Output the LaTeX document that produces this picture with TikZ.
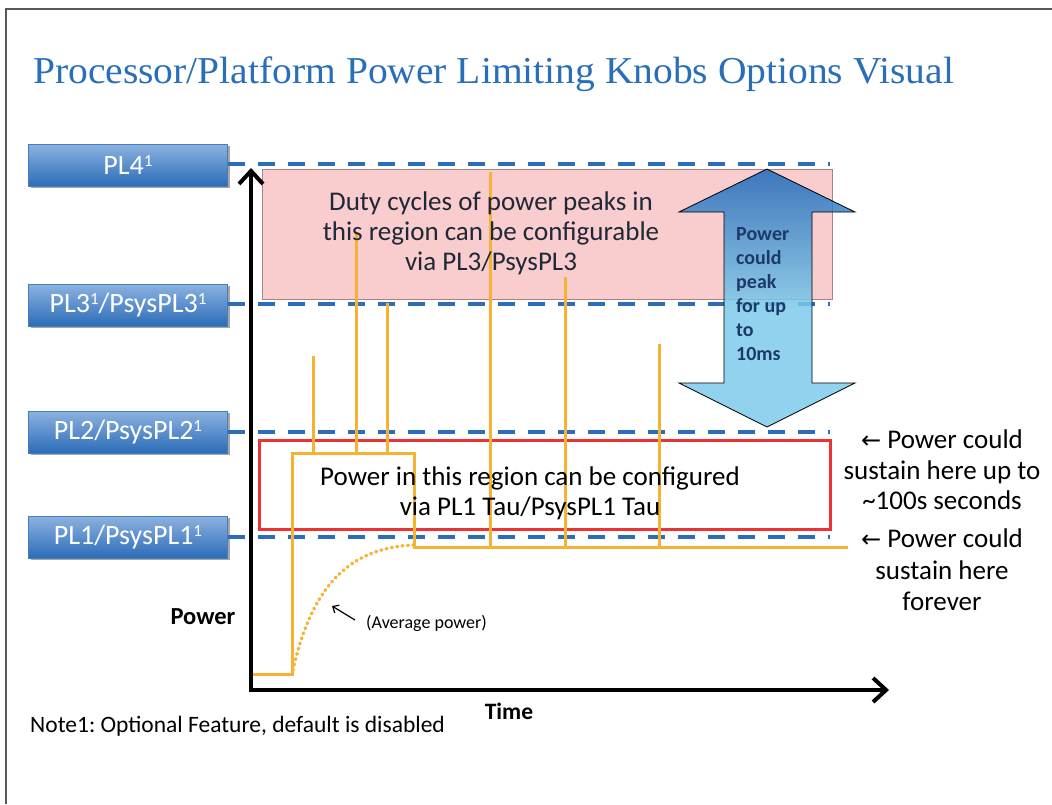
\documentclass[tikz,border=0pt]{standalone}
\usepackage{fontspec}
\setmainfont{Carlito}
\newfontfamily\titlefont{Liberation Serif}
\newfontfamily\symfont{DejaVu Sans}
\usetikzlibrary{arrows.meta,shadows}
\frenchspacing

\definecolor{plblue}{RGB}{42,110,187}
\definecolor{boxtop}{RGB}{140,178,224}
\definecolor{boxbot}{RGB}{44,108,184}
\definecolor{boxedge}{RGB}{70,125,190}
\definecolor{trace}{RGB}{246,178,51}
\definecolor{pinkfill}{RGB}{249,204,206}
\definecolor{pinkedge}{RGB}{170,130,130}
\definecolor{limitred}{RGB}{236,50,50}
\definecolor{darktext}{RGB}{30,40,54}
\definecolor{navytext}{RGB}{28,58,105}
\definecolor{skylight}{RGB}{126,204,236}
\definecolor{skydark}{RGB}{30,104,186}
\definecolor{titleblue}{RGB}{40,110,185}

% blue-to-sky fill of the double arrow (dark at the top)
\pgfdeclareverticalshading{peakshade}{100bp}{%
  color(0bp)=(skylight); color(25bp)=(skylight); color(48bp)=(skylight);
  color(75bp)=(skydark); color(100bp)=(skydark)}

\newcommand{\plsup}{\raisebox{0.3em}{\fontsize{17}{18}\selectfont 1}}
\newcommand{\leftarr}{{\symfont\fontsize{24}{28}\selectfont ←}}

\tikzset{
  limitbox/.style={draw=boxedge, line width=0.8pt, top color=boxtop, bottom color=boxbot,
    minimum width=199pt, minimum height=42pt, inner sep=0pt, text=white,
    font=\fontsize{28}{30}\selectfont,
    drop shadow={shadow xshift=2pt, shadow yshift=-2pt, opacity=0.35, fill=black}},
  limitline/.style={draw=plblue, line width=4.5pt, dash pattern=on 17pt off 13pt},
  axisline/.style={line width=4pt, -{Straight Barb[length=13pt,width=24pt]}},
  powertrace/.style={draw=trace, line width=3pt},
  body/.style={font=\fontsize{27}{30}\selectfont, align=center, inner sep=0pt},
}

\begin{document}
\begin{tikzpicture}[x=1pt,y=-1pt]
\useasboundingbox (0,0) rectangle (1052,804);
\fill[white] (0,0) rectangle (1052,804);

% page frame
\draw[gray!70!black, line width=1.5pt] (6,804) -- (6,9) -- (1052,9);

% title
\node[anchor=west, inner sep=0pt, text=titleblue] (title) at (33,74)
  {\scalebox{1.04}[1]{\titlefont\fontsize{38}{42}\selectfont Processor/Platform Power Limiting Knobs Options Visual}};

% PL3 region
\node[draw=pinkedge, line width=0.8pt, fill=pinkfill, minimum width=570pt, minimum height=130pt,
      inner sep=0pt] (pl3region) at (547,234) {};

% limit labels
\node[limitbox] (pl4) at (128,165) {PL4\plsup};
\node[limitbox] (pl3) at (128,305) {PL3\plsup/PsysPL3\plsup};
\node[limitbox] (pl2) at (128,432) {PL2/PsysPL2\plsup};
\node[limitbox] (pl1) at (128,537) {PL1/PsysPL1\plsup};

\coordinate (pl4end) at (830,164);
\coordinate (pl3end) at (830,304);
\coordinate (pl2end) at (830,432);
\coordinate (pl1end) at (830,537);

\draw[limitline] (pl4.east |- pl4end) -- (pl4end);
\draw[limitline] (pl3.east |- pl3end) -- (pl3end);
\draw[limitline] (pl2.east |- pl2end) -- (pl2end);
\draw[limitline] (pl1.east |- pl1end) -- (pl1end);

% PL1 tau region
\node[draw=limitred, line width=3pt, minimum width=571pt, minimum height=89pt, inner sep=0pt]
  (tauregion) at (544.5,484.5) {};

% power trace
\coordinate (t0) at (252,674);
\coordinate (t1) at (292,674);
\coordinate (t2) at (292,453);
\coordinate (t3) at (414,453);
\coordinate (t4) at (414,547);
\coordinate (t5) at (848,547);
\draw[powertrace, line join=miter] (t0) -- (t1) -- (t2) -- (t3) -- (t4) -- (t5);

% power spikes
\coordinate (s1) at (313,356);
\coordinate (s2) at (356,232);
\coordinate (s3) at (387,303);
\coordinate (s4) at (490,172);
\coordinate (s5) at (565,277);
\coordinate (s6) at (659,344);
\draw[powertrace] (s1) -- (s1 |- t2);
\draw[powertrace] (s2) -- (s2 |- t2);
\draw[powertrace] (s3) -- (s3 |- t2);
\draw[powertrace] (s4) -- (s4 |- t4);
\draw[powertrace] (s5) -- (s5 |- t5);
\draw[powertrace] (s6) -- (s6 |- t5);

% average power
\coordinate (a0) at (293,670);
\coordinate (a1) at (413,545);
\draw[trace, line width=3.5pt, line cap=round, dash pattern=on 0.8pt off 4.6pt]
  (a0) .. controls (312,585) and (350,548) .. (a1);
\node[font=\fontsize{18}{20}\selectfont, anchor=west, inner sep=0pt] (avglabel) at (366,623) {(Average power)};
\coordinate (avgtip) at (332,606);
\draw[line width=1.2pt, -{Straight Barb[length=5pt,width=9pt]}] (355,620) -- (avgtip);

% region descriptions
\node[body, text=darktext] (pl3text) at (491,233)
  {Duty cycles of power peaks in\\this region can be configurable\\via PL3/PsysPL3};
\node[body] (tautext) at (530,493)
  {Power in this region can be configured\\via PL1 Tau/PsysPL1 Tau};

% peak duration double arrow
\path[draw=black, line width=0.8pt, shading=peakshade, fill opacity=0.85, draw opacity=1]
  (767,169) -- (855,212) -- (812,212) -- (812,383) -- (855,383) -- (767,427)
  -- (679,383) -- (724,383) -- (724,212) -- (679,212) -- cycle;
\node[anchor=north west, align=left, inner sep=0pt, text=navytext,
      font=\bfseries\fontsize{20}{24}\selectfont] (peaktext) at (736,227)
  {Power\\could\\peak\\for up\\to\\10ms};

% axes
\coordinate (origin) at (251,690);
\coordinate (ytip) at (251,168);
\coordinate (xtip) at (889,690);
\draw[axisline] ([yshift=-2pt]origin) -- (ytip);
\draw[axisline] ([xshift=-2pt]origin) -- (xtip);
\node[font=\bfseries\fontsize{24.5}{26}\selectfont, inner sep=0pt] (ylabel) at (203,617) {Power};
\node[font=\bfseries\fontsize{23.5}{26}\selectfont, inner sep=0pt] (xlabel) at (509,711) {Time};

% notes on the right
\node[body, font=\fontsize{27}{30.5}\selectfont] (note2) at (942,470)
  {\leftarr{} Power could\\sustain here up to\\\textasciitilde100s seconds};
\node[body, font=\fontsize{27}{31.5}\selectfont] (note1) at (942,570)
  {\leftarr{} Power could\\sustain here\\forever};

% footnote
\node[anchor=west, inner sep=0pt, font=\fontsize{23.5}{26}\selectfont] (footnote) at (30,726)
  {Note1: Optional Feature, default is disabled};
\end{tikzpicture}
\end{document}
